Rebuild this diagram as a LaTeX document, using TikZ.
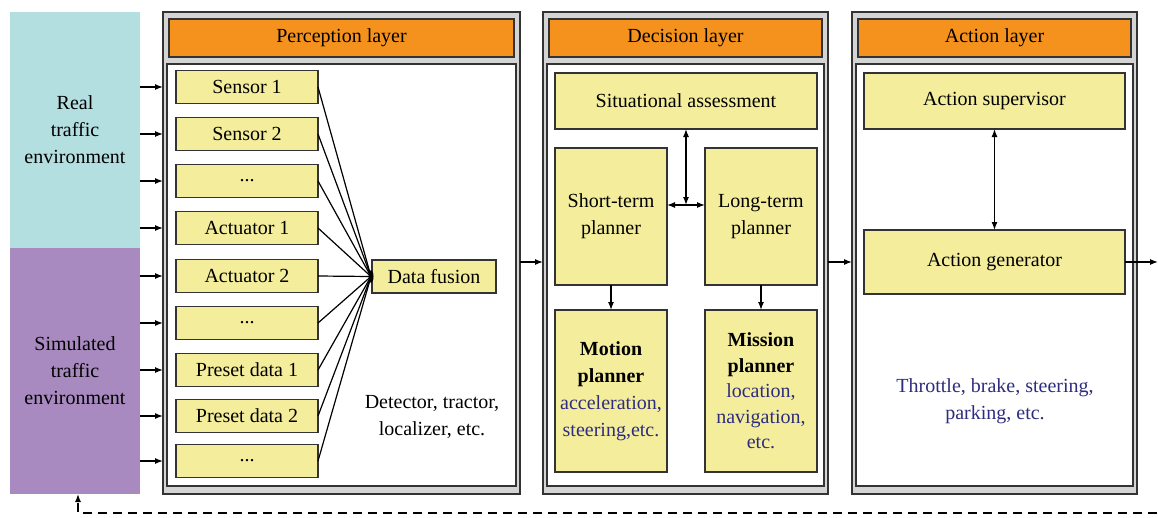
\documentclass[tikz,border=0pt]{standalone}
\usepackage{fontspec}
\setmainfont{Liberation Serif}
\usetikzlibrary{arrows.meta,calc,shapes.geometric}
\definecolor{ybox}{HTML}{F4EE9C}
\definecolor{orng}{HTML}{F5921E}
\definecolor{cyanenv}{HTML}{B4DFE1}
\definecolor{purpenv}{HTML}{A98AC0}
\definecolor{navy}{HTML}{2E2C7E}
\definecolor{framegray}{HTML}{D4D4D4}
\definecolor{edge}{HTML}{333333}
\newcommand{\mydots}{...}
\begin{document}
\begin{tikzpicture}[x=1pt,y=-1pt,
  font=\fontsize{20}{27}\selectfont,
  every node/.style={inner sep=0pt, outer sep=0pt},
  ybox/.style={draw=edge, fill=ybox, line width=1.2pt, align=center},
  frameout/.style={draw=edge, fill=framegray, line width=1.4pt},
  framein/.style={draw=edge, fill=white, line width=1.4pt},
  header/.style={draw=edge, fill=orng, line width=1.4pt},
  envbox/.style={align=center},
  arr/.style={-{Latex[length=8pt,width=6pt]}, line width=1.3pt},
  darr/.style={{Latex[length=8pt,width=6pt]}-{Latex[length=8pt,width=6pt]}, line width=1.3pt},
]
\useasboundingbox (0,0) rectangle (1158,517);

% environments
\node[envbox, fill=cyanenv, minimum width=130, minimum height=236] (real) at (75,130) {Real\\traffic\\environment};
\node[envbox, fill=purpenv, minimum width=130, minimum height=246] (sim) at (75,371) {Simulated\\traffic\\environment};

% layer frames
\node[frameout, minimum width=357, minimum height=482] (pout) at (341.5,253) {};
\node[framein, minimum width=349, minimum height=422] (pin) at (341.5,275) {};
\node[header, minimum width=345, minimum height=38] (phead) at (341.5,38) {Perception layer};

\node[frameout, minimum width=285, minimum height=482] (dout) at (685.5,253) {};
\node[framein, minimum width=277, minimum height=422] (din) at (685.5,275) {};
\node[header, minimum width=273, minimum height=38] (dhead) at (685.5,38) {Decision layer};

\node[frameout, minimum width=285, minimum height=482] (aout) at (994.5,253) {};
\node[framein, minimum width=277, minimum height=422] (ain) at (994.5,275) {};
\node[header, minimum width=273, minimum height=38] (ahead) at (994.5,38) {Action layer};

% perception boxes
\foreach \nm/\yy/\tx in {s1/87/Sensor 1, s2/134/Sensor 2, s3/181/\mydots, s4/228/Actuator 1, s5/276/Actuator 2, s6/323/\mydots, s7/370/Preset data 1, s8/416/Preset data 2, s9/461/\mydots}{
  \node[ybox, minimum width=142, minimum height=33] (\nm) at (247,\yy) {\tx};
}
\node[ybox, minimum width=124, minimum height=33] (fusion) at (434,276.5) {Data fusion};
\node[fill=black, ellipse, minimum width=5, minimum height=13] (hubf) at (371,276.5) {};
\foreach \nm in {s1,s2,s3,s4,s5,s6,s7,s8,s9}{
  \draw[line width=1.2pt] (\nm.east) -- (hubf.center);
  \draw[arr] (real.east |- \nm) -- (pout.west |- \nm);
}
\node[align=center] (ptext) at (432,416.5) {Detector, tractor,\\localizer, etc.};

% decision boxes
\node[ybox, minimum width=262, minimum height=56] (sit) at (686,101) {Situational assessment};
\node[ybox, minimum width=112, minimum height=137] (st) at (611,216.5) {Short-term\\planner};
\node[ybox, minimum width=112, minimum height=137] (lt) at (761,216.5) {Long-term\\planner};
\node[ybox, minimum width=112, minimum height=162] (mot) at (611,391) {\textbf{Motion}\\\textbf{planner}\\{\color{navy}acceleration,}\\{\color{navy}steering,etc.}};
\node[ybox, minimum width=112, minimum height=162, font=\fontsize{20}{25.5}\selectfont] (mis) at (761,391) {\textbf{Mission}\\\textbf{planner}\\{\color{navy}location,}\\{\color{navy}navigation,}\\{\color{navy}etc.}};
\coordinate (hub) at (686,205);
\draw[darr] (sit.south -| hub) -- (hub);
\draw[darr] (st.east |- hub) -- (lt.west |- hub);
\draw[arr] (st.south) -- (mot.north);
\draw[arr] (lt.south) -- (mis.north);

% action boxes
\node[ybox, minimum width=261, minimum height=56] (sup) at (994.5,101) {Action supervisor};
\node[ybox, minimum width=261, minimum height=64] (gen) at (994.5,262) {Action generator};
\draw[darr] (sup.south) -- (gen.north);
\node[align=center, text=navy] (atext) at (995,401.5) {Throttle, brake, steering,\\parking, etc.};

% inter-layer arrows
\draw[arr] (pout.east |- gen) -- (dout.west |- gen);
\draw[arr] (dout.east |- gen) -- (aout.west |- gen);
\coordinate (outR) at (1158,262);
\draw[arr] (gen.east) -- (outR);

% feedback
\coordinate (fbR) at (1157,513);
\draw[arr, dash pattern=on 9pt off 6pt] (fbR) -| ($(sim.south)+(3,0)$);
\end{tikzpicture}
\end{document}
